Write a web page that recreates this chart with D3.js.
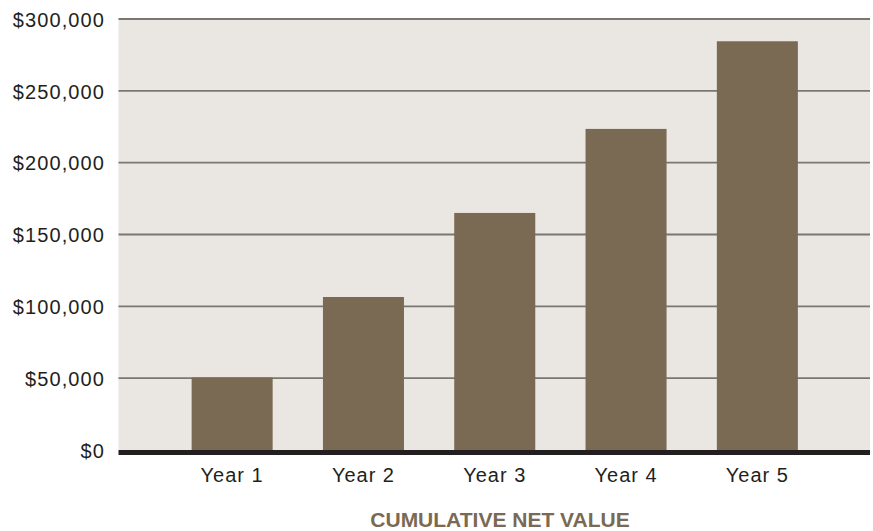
<!DOCTYPE html>
<html>
<head>
<meta charset="utf-8">
<script src="https://cdn.jsdelivr.net/npm/d3@7"></script>
<style>
html,body{margin:0;padding:0;background:#fff;}
svg{display:block;}
text{font-family:"Liberation Sans",Arial,Helvetica,sans-serif;}
</style>
</head>
<body>
<svg id="chart" width="873" height="531"></svg>
<script>
const categories = ["Year 1", "Year 2", "Year 3", "Year 4", "Year 5"];
const values = [50500, 106500, 165000, 223500, 284500];
const yTicks = [0, 50000, 100000, 150000, 200000, 250000, 300000];
const title = "CUMULATIVE NET VALUE";

const svg = d3.select("#chart");
const plotLeft = 118.5, plotRight = 870, plotTop = 19, plotBottom = 450;

const y = d3.scaleLinear().domain([0, 300000]).range([plotBottom, plotTop]);
const x = d3.scaleBand().domain(categories).range([166.5, 823])
  .paddingInner(0.383).paddingOuter(0.1915);

// background
svg.append("rect").attr("x", plotLeft).attr("y", plotTop)
  .attr("width", plotRight - plotLeft).attr("height", plotBottom - plotTop)
  .attr("fill", "#EAE6E1");

// gridlines
svg.append("g").selectAll("line").data(yTicks.filter(d => d > 0)).join("line")
  .attr("x1", plotLeft).attr("x2", plotRight)
  .attr("y1", d => y(d)).attr("y2", d => y(d))
  .attr("stroke", "#7A7671").attr("stroke-width", 1.8);

// y axis labels
const yAxis = d3.axisLeft(y).tickValues(yTicks).tickSize(0).tickPadding(0)
  .tickFormat(d => "$" + d3.format(",")(d));
const gy = svg.append("g").attr("transform", `translate(${105},0)`).call(yAxis);
gy.select(".domain").remove();
gy.selectAll("text").attr("font-size", 20).attr("fill", "#231F20")
  .attr("letter-spacing", 1.1)
  .attr("font-family", "'Liberation Sans', Arial, sans-serif").attr("dy", "0.36em");

// bars
svg.append("g").selectAll("rect").data(values).join("rect")
  .attr("x", (d, i) => x(categories[i]))
  .attr("width", x.bandwidth())
  .attr("y", d => y(d))
  .attr("height", d => y(0) - y(d))
  .attr("fill", "#7A6953");

// baseline
svg.append("line").attr("x1", plotLeft).attr("x2", plotRight)
  .attr("y1", y(0) + 2.5).attr("y2", y(0) + 2.5)
  .attr("stroke", "#231F20").attr("stroke-width", 5);

// x axis labels
const xAxis = d3.axisBottom(x).tickSize(0).tickPadding(0);
const gx = svg.append("g").attr("transform", `translate(0,0)`).call(xAxis);
gx.select(".domain").remove();
gx.selectAll("text").attr("font-size", 20).attr("fill", "#231F20")
  .attr("letter-spacing", 1)
  .attr("font-family", "'Liberation Sans', Arial, sans-serif")
  .attr("y", 482).attr("dy", 0);

// title
svg.append("text").attr("x", 500).attr("y", 527)
  .attr("text-anchor", "middle").attr("font-size", 21).attr("font-weight", "bold")
  .attr("fill", "#7A6953").text(title);
</script>
</body>
</html>
